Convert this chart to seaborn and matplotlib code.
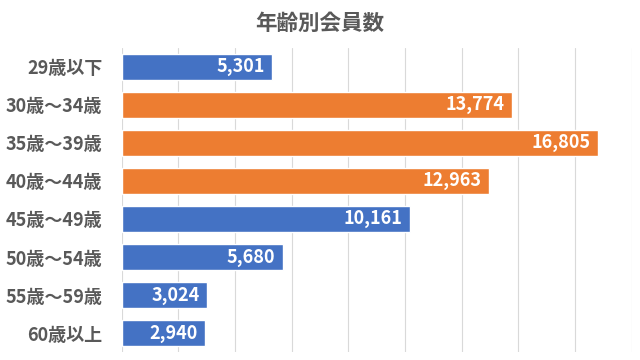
import seaborn as sns
import pandas as pd
import matplotlib.pyplot as plt

ages = ['29歳以下', '30歳～34歳', '35歳～39歳', '40歳～44歳',
        '45歳～49歳', '50歳～54歳', '55歳～59歳', '60歳以上']
members = [5301, 13774, 16805, 12963, 10161, 5680, 3024, 2940]
highlight = [False, True, True, True, False, False, False, False]

sns.set_style('white')
plt.rcParams['font.family'] = ['Noto Sans CJK JP', 'DejaVu Sans']

df = pd.DataFrame({'age': ages, 'members': members,
                   'group': ['hi' if h else 'lo' for h in highlight]})
palette = {'lo': '#4472C4', 'hi': '#ED7D31'}

fig = plt.figure(figsize=(6.4, 3.6), dpi=100)
ax = fig.add_axes([0.19, 0.022, 0.797, 0.845])
sns.barplot(data=df, x='members', y='age', hue='group', palette=palette,
            dodge=False, width=0.68, saturation=1, legend=False, ax=ax, zorder=2)

ax.set_xlim(0, 18000)
ax.set_xticks(range(0, 18001, 2000))
ax.xaxis.grid(True, color='#D9D9D9', linewidth=0.8, zorder=0)
ax.set_axisbelow(True)
ax.tick_params(axis='x', labelbottom=False, length=0)
ax.tick_params(axis='y', length=0, pad=14)
for lab in ax.get_yticklabels():
    lab.set_fontsize(13)
    lab.set_color('#595959')
    lab.set_fontweight('bold')
for s in ax.spines.values():
    s.set_visible(False)
ax.set_xlabel('')
ax.set_ylabel('')

for i, v in enumerate(members):
    ax.text(v - 250, i, f'{v:,}', ha='right', va='center', color='white',
            fontsize=13, fontweight='bold')

fig.text(0.5, 0.935, '年齢別会員数', ha='center', va='center',
         fontsize=15.5, fontweight='bold', color='#595959')

fig.savefig('out.png', dpi=100)
